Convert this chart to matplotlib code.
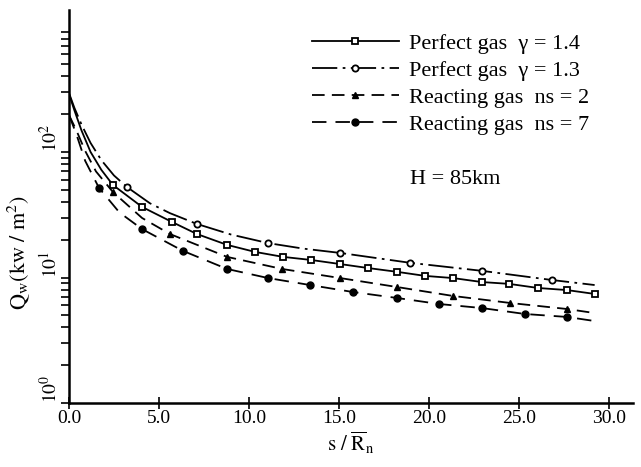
import matplotlib
matplotlib.use("Agg")
import matplotlib.pyplot as plt
from matplotlib.ticker import LogLocator, NullFormatter, FixedLocator, FixedFormatter

plt.rcParams['font.family'] = ['Liberation Serif', 'DejaVu Serif']
plt.rcParams['mathtext.fontset'] = 'stix'

# perfect gas, gamma = 1.4 (solid, open square)
s_p14 = [0, 0.3, 0.7, 1.2, 1.8, 2.44, 4.06, 5.72, 7.11, 8.78, 10.33, 11.89, 13.44, 15.06,
         16.61, 18.22, 19.78, 21.33, 22.94, 24.44, 26.06, 27.67, 29.22]
q_p14 = [290, 215, 148, 100, 72, 54.6, 36.5, 27.7, 22.2, 18.2, 16.0, 14.6, 13.8, 12.8,
         11.9, 11.1, 10.3, 9.9, 9.2, 8.9, 8.25, 7.94, 7.39]

# perfect gas, gamma = 1.3 (dash-dot, open circle)
s_p13 = [0, 0.3, 0.7, 1.2, 1.8, 2.5, 3.22, 4.5, 5.6, 7.11, 9.0, 11.06, 13.0, 15.06,
         18.94, 22.94, 26.83, 29.2]
q_p13 = [295, 225, 165, 118, 86, 65, 52.6, 39, 32.6, 26.7, 22.0, 18.8, 17.0, 15.7,
         13.1, 11.3, 9.55, 8.71]

# reacting gas, ns = 2 (dashed, triangle)
s_r2 = [0, 0.4, 0.9, 1.5, 2.44, 4.06, 5.61, 8.78, 11.83, 15.06, 18.22, 21.33, 24.5, 27.67, 29.2]
q_r2 = [197, 150, 102, 70, 48, 29.8, 22.2, 14.6, 11.7, 9.9, 8.4, 7.13, 6.27, 5.61, 5.21]

# reacting gas, ns = 7 (dashed, filled circle)
s_r7 = [0, 0.4, 0.9, 1.67, 2.8, 4.06, 6.33, 8.78, 11.06, 13.39, 15.78, 18.22, 20.56,
        22.94, 25.33, 27.67, 29.2]
q_r7 = [197, 140, 85, 51.7, 33, 24.3, 16.3, 11.7, 9.9, 8.71, 7.66, 6.87, 6.15,
        5.71, 5.12, 4.85, 4.5]

x_ticks = [0, 5, 10, 15, 20, 25, 30]
x_labels = ['0.0', '5.0', '10.0', '15.0', '20.0', '25.0', '30.0']

fig = plt.figure(figsize=(6.41, 4.67), dpi=100)
ax = fig.add_axes([0.1076, 0.137, 0.8799, 0.8416])

ax.plot(s_p14, q_p14, color='black', lw=1.3, ls='-', marker='s', ms=4.5,
        mfc='white', mec='black', mew=1.3, markevery=slice(5, None),
        label='Perfect gas  γ = 1.4')
ax.plot(s_p13, q_p13, color='black', lw=1.3, ls=(0, (14, 3, 1.5, 3)), marker='o', ms=4.5,
        mfc='white', mec='black', mew=1.3, markevery=[6, 9, 11, 13, 14, 15, 16],
        label='Perfect gas  γ = 1.3')
ax.plot(s_r2, q_r2, color='black', lw=1.3, ls=(0, (7, 4)), marker='^', ms=5,
        mfc='black', mec='black', markevery=[4, 6, 7, 8, 9, 10, 11, 12, 13],
        label='Reacting gas  ns = 2')
ax.plot(s_r7, q_r7, color='black', lw=1.3, ls=(0, (8, 5)), marker='o', ms=5,
        mfc='black', mec='black', markevery=[3, 5, 6, 7, 8, 9, 10, 11, 12, 13, 14, 15],
        label='Reacting gas  ns = 7')

ax.set_yscale('log')
ax.set_xlim(0, 31.33)
ax.set_ylim(1, 1353)

ax.spines['top'].set_visible(False)
ax.spines['right'].set_visible(False)
ax.spines['left'].set_linewidth(1.8)
ax.spines['bottom'].set_linewidth(1.8)

ax.xaxis.set_major_locator(FixedLocator(x_ticks))
ax.xaxis.set_major_formatter(FixedFormatter(x_labels))
ax.tick_params(axis='x', direction='inout', length=8, width=1.2, labelsize=14, pad=1)

ax.yaxis.set_major_locator(FixedLocator([1, 10, 100]))
ax.yaxis.set_major_formatter(FixedFormatter(['$10^0$', '$10^1$', '$10^2$']))
ax.yaxis.set_minor_locator(LogLocator(base=10, subs=range(2, 10)))
ax.yaxis.set_minor_formatter(NullFormatter())
ax.tick_params(axis='y', which='major', direction='out', length=6, width=1.2, labelsize=14, pad=0)
ax.tick_params(axis='y', which='minor', direction='out', length=6, width=1.2)
for lbl in ax.get_yticklabels():
    lbl.set_rotation(90)
    lbl.set_va('bottom')

ax.set_xlabel(r'$\mathrm{s\ /\ \overline{R}_n}$', fontsize=15, labelpad=2)
ax.set_ylabel(r'$\mathrm{Q_w(kw\ /\ m^2)}$', fontsize=16)
ax.yaxis.set_label_coords(-0.066, 0.382)

ax.legend(loc='upper left', bbox_to_anchor=(312 / 641, 1 - 33 / 467),
          bbox_transform=fig.transFigure, frameon=False, fontsize=16,
          handlelength=3.9, handletextpad=0.45, labelspacing=0.3,
          borderpad=0, borderaxespad=0, numpoints=1)

fig.text(410 / 641, 1 - 180 / 467, 'H = 85km', fontsize=16, va='center', ha='left')

fig.savefig('out.png', dpi=100)
